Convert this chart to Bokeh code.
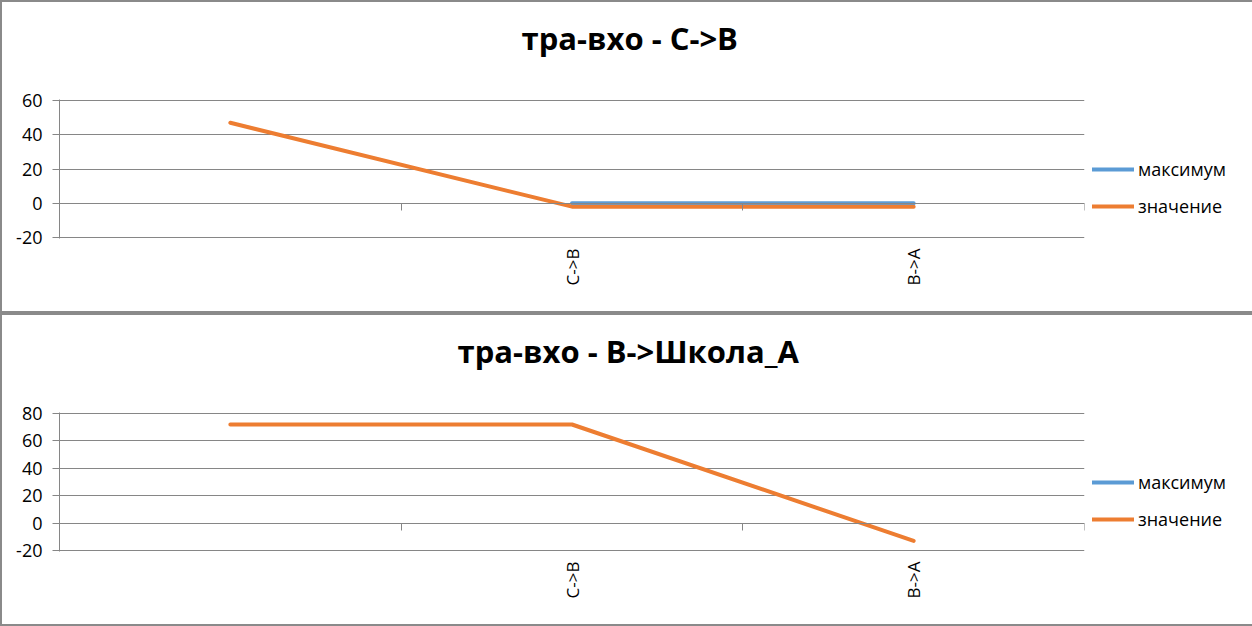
import math
from bokeh.plotting import figure
from bokeh.models import (Range1d, FixedTicker, LinearAxis, Legend, LegendItem, Title)
from bokeh.layouts import column
from bokeh.embed import file_html
from bokeh.resources import INLINE

NaN = float("nan")

categories = ["", "C->B", "B->A"]
series_names = ["максимум", "значение"]

top_title = "тра-вхо - C->B"
top_maximum = [NaN, 0, 0]
top_value = [47, -2, -2]
top_yticks = [-20, 0, 20, 40, 60]
top_ytick_labels = ["-20", "0", "20", "40", "60"]

bottom_title = "тра-вхо - B->Школа_A"
bottom_maximum = [NaN, NaN, NaN]
bottom_value = [72, 72, -13]
bottom_yticks = [-20, 0, 20, 40, 60, 80]
bottom_ytick_labels = ["-20", "0", "20", "40", "60", "80"]

BLUE = "#5B9BD5"
ORANGE = "#ED7D31"
GRID = "#868686"
BORDER = "#8A8A8A"
FONT = "Open Sans"

FW, FH = 1021, 135
BL, BR, BT, BB = 57, 170, 97, 77
FRAME_PX = 133  # pixel span between first and last tick


def make_panel(title, title_offset, maximum, values, yticks, ylabels):
    n = len(categories)
    xs = list(range(n))
    span = yticks[-1] - yticks[0]
    pad = span / FRAME_PX
    p = figure(frame_width=FW, frame_height=FH,
               output_backend="svg", toolbar_location=None,
               x_range=Range1d(-0.5, n - 0.5),
               y_range=Range1d(yticks[0] - pad, yticks[-1] + pad),
               min_border_left=BL, min_border_right=BR,
               min_border_top=BT, min_border_bottom=BB,
               x_axis_type=None, title=None,
               styles={"border": "2px solid " + BORDER})
    p.outline_line_color = None
    p.background_fill_color = "white"
    p.border_fill_color = "white"

    # invisible spacer axis between the frame and the title
    spacer = LinearAxis(ticker=FixedTicker(ticks=[1]),
                        axis_line_color=None, major_tick_line_color=None,
                        minor_tick_line_color=None,
                        major_tick_out=38, major_tick_in=0, minor_tick_out=0,
                        major_label_standoff=0,
                        major_label_text_font_size="0px")
    p.add_layout(spacer, "above")
    p.add_layout(Title(text=title, align="left", offset=title_offset,
                       text_font=FONT, text_font_style="bold",
                       text_font_size="31px", text_color="black",
                       standoff=6), "above")

    # y axis & grid
    yt = FixedTicker(ticks=yticks)
    ya = p.yaxis[0]
    ya.ticker = yt
    ya.major_label_overrides = {t: l for t, l in zip(yticks, ylabels)}
    ya.axis_line_color = GRID
    ya.major_tick_line_color = GRID
    ya.major_tick_out = 7
    ya.major_tick_in = 0
    ya.minor_tick_line_color = None
    ya.major_label_standoff = 10
    ya.major_label_text_font = FONT
    ya.major_label_text_font_size = "18px"
    ya.major_label_text_color = "black"
    p.ygrid.ticker = yt
    p.ygrid.grid_line_color = GRID
    p.ygrid.grid_line_width = 1
    p.xgrid.visible = False

    # category axis crossing at zero (boundary ticks)
    xa0 = LinearAxis(ticker=FixedTicker(ticks=[i + 0.5 for i in range(n)]),
                     fixed_location=0,
                     axis_line_color=GRID, major_tick_line_color=GRID,
                     major_tick_out=7, major_tick_in=0,
                     minor_tick_line_color=None,
                     major_label_text_font_size="0px")
    p.add_layout(xa0, "below")

    # category labels at the bottom
    xa1 = LinearAxis(ticker=FixedTicker(ticks=xs),
                     major_label_overrides={i: c for i, c in enumerate(categories)},
                     axis_line_color=None, major_tick_line_color=None,
                     minor_tick_line_color=None,
                     major_tick_out=0, major_tick_in=0,
                     major_label_orientation=math.pi / 2,
                     major_label_standoff=10,
                     major_label_text_font=FONT,
                     major_label_text_font_size="17px",
                     major_label_text_color="black")
    p.add_layout(xa1, "below")

    r_max = p.line(xs, maximum, line_color=BLUE, line_width=4,
                   line_cap="round", line_join="round")
    r_val = p.line(xs, values, line_color=ORANGE, line_width=4,
                   line_cap="round", line_join="round")

    legend = Legend(items=[LegendItem(label=series_names[0], renderers=[r_max]),
                           LegendItem(label=series_names[1], renderers=[r_val])],
                    location=(8, 20), orientation="vertical",
                    glyph_width=42, glyph_height=20, label_height=20,
                    spacing=13, label_standoff=4, padding=0, margin=0,
                    background_fill_alpha=0, border_line_color=None,
                    label_text_font=FONT, label_text_font_size="18px",
                    label_text_color="black")
    p.add_layout(legend, "right")
    return p


p1 = make_panel(top_title, 462, top_maximum, top_value, top_yticks, top_ytick_labels)
p2 = make_panel(bottom_title, 398, bottom_maximum, bottom_value, bottom_yticks,
                bottom_ytick_labels)
p = column(p1, p2, spacing=0)

open("out.html", "w").write(file_html(p, INLINE))
